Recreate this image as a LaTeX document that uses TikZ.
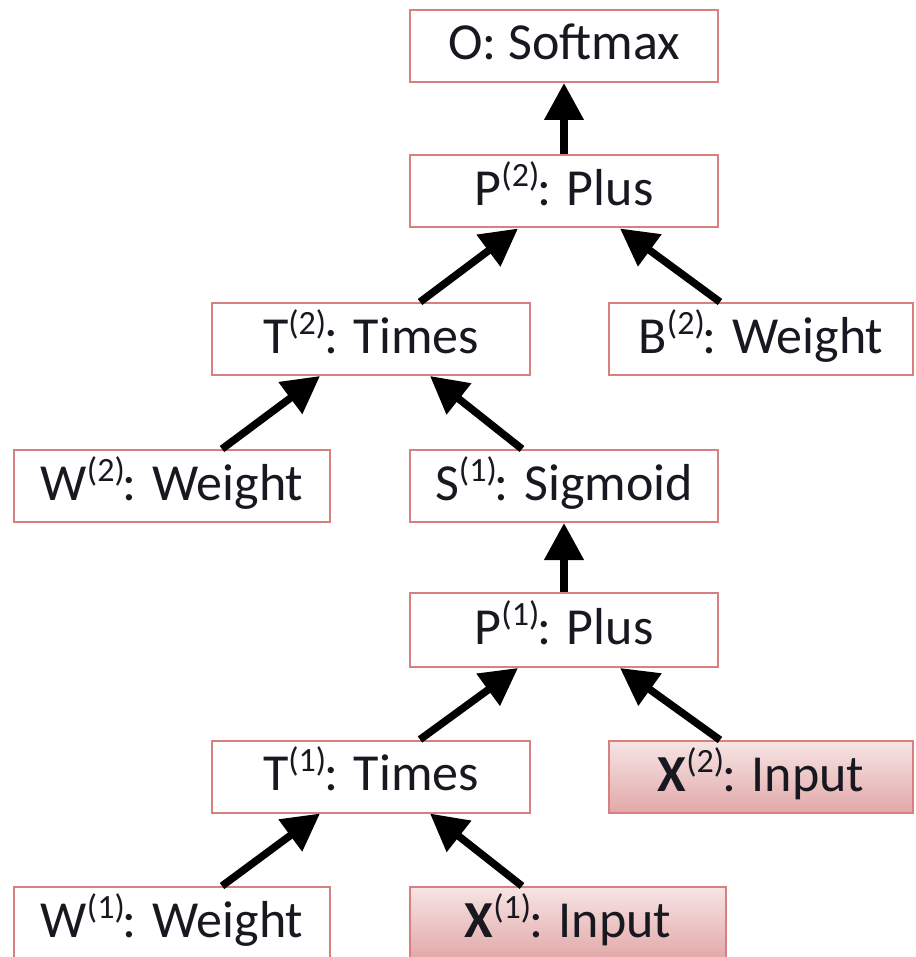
\documentclass[tikz,border=0pt]{standalone}
\usepackage{fontspec}
\setmainfont{Carlito}
\usetikzlibrary{arrows.meta}
\definecolor{boxred}{RGB}{214,128,128}
\definecolor{inTop}{RGB}{247,228,228}
\definecolor{inBot}{RGB}{226,168,168}
\definecolor{ink}{RGB}{24,24,32}
\newcommand\upidx[1]{\raisebox{19pt}{\fontsize{34}{34}\selectfont #1}\kern-2pt}
\tikzset{
  opbox/.style={draw=boxred, line width=2pt, fill=white, inner sep=0pt,
    minimum height=72pt, text height=38pt, text depth=10pt,
    text=ink, font=\fontsize{52}{62}\selectfont},
  inbox/.style={opbox, top color=inTop, bottom color=inBot},
  flow/.style={line width=7.5pt, -{Triangle[length=37pt,width=38pt]}, black}
}
\begin{document}
\begin{tikzpicture}[x=1pt,y=-1pt]
\useasboundingbox (0,0) rectangle (915,957);
% operation nodes
\node[opbox, minimum width=308pt] (O)  at (564,46)    {O: Softmax};
\node[opbox, minimum width=308pt] (P2) at (564,191.5) {P\upidx{(2)}: Plus};
\node[opbox, minimum width=318pt] (T2) at (371,339)   {T\upidx{(2)}: Times};
\node[opbox, minimum width=304pt] (B2) at (761,339)   {B\upidx{(2)}: Weight};
\node[opbox, minimum width=316pt] (W2) at (172,486)   {W\upidx{(2)}: Weight};
\node[opbox, minimum width=308pt] (S1) at (564,486)   {S\upidx{(1)}: Sigmoid};
\node[opbox, minimum width=308pt, minimum height=74pt] (P1) at (564,630) {P\upidx{(1)}: Plus};
\node[opbox, minimum width=318pt] (T1) at (371,776.5) {T\upidx{(1)}: Times};
\node[inbox, minimum width=304pt] (X2) at (761,777)   {\textbf{X}\upidx{(2)}: Input};
\node[opbox, minimum width=316pt] (W1) at (172,923)   {W\upidx{(1)}: Weight};
\node[inbox, minimum width=316pt] (X1) at (568,923)   {\textbf{X}\upidx{(1)}: Input};
% data flow
\draw[flow] (P2.north) -- (O.south);
\draw[flow] ([xshift=49pt]T2.north) -- ([xshift=-46pt]P2.south);
\draw[flow] ([xshift=-41pt]B2.north) -- ([xshift=56pt]P2.south);
\draw[flow] ([xshift=50pt]W2.north) -- ([xshift=-51pt]T2.south);
\draw[flow] ([xshift=-42pt]S1.north) -- ([xshift=59pt]T2.south);
\draw[flow] (P1.north) -- (S1.south);
\draw[flow] ([xshift=49pt]T1.north) -- ([xshift=-46pt]P1.south);
\draw[flow] ([xshift=-41pt]X2.north) -- ([xshift=56pt]P1.south);
\draw[flow] ([xshift=50pt]W1.north) -- ([xshift=-51pt]T1.south);
\draw[flow] ([xshift=-46pt]X1.north) -- ([xshift=59pt]T1.south);
\end{tikzpicture}
\end{document}
